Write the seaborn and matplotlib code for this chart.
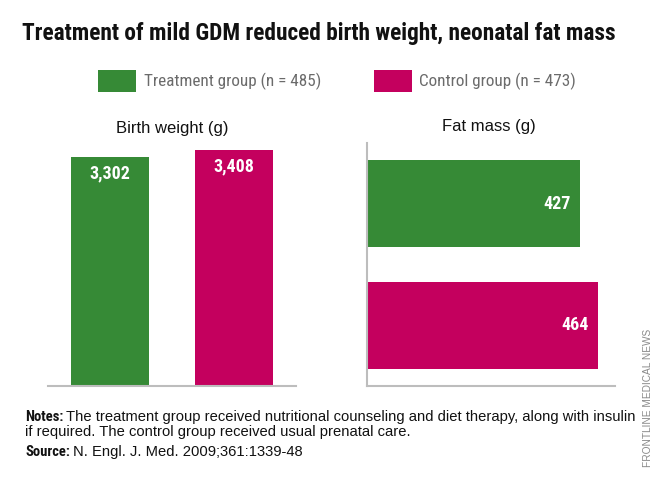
import matplotlib
matplotlib.use('Agg')
import matplotlib.pyplot as plt
from matplotlib import font_manager
from matplotlib.patches import Patch
import seaborn as sns
import pandas as pd

# data
groups = ['Treatment group (n = 485)', 'Control group (n = 473)']
birth_weight = [3302, 3408]
fat_mass = [427, 464]
colors = ['#368a36', '#c4005e']

title = 'Treatment of mild GDM reduced birth weight, neonatal fat mass'
notes_1 = 'The treatment group received nutritional counseling and diet therapy, along with insulin'
notes_2 = 'if required. The control group received usual prenatal care.'
source = 'N. Engl. J. Med. 2009;361:1339-48'

sns.set_theme(style='white')

# pick a narrow font if there is one
names = {f.name for f in font_manager.fontManager.ttflist}
cond = next((n for n in ['Liberation Sans Narrow', 'Roboto Condensed', 'Open Sans Condensed']
             if n in names), 'DejaVu Sans')
plain = 'Liberation Sans' if 'Liberation Sans' in names else 'DejaVu Sans'
plt.rcParams['font.family'] = [cond, 'DejaVu Sans']
plain_fam = [plain, 'DejaVu Sans']

W, H = 665, 488
fig = plt.figure(figsize=(W / 100, H / 100), dpi=100)


def box(l, t, r, b):
    return [l / W, 1 - b / H, (r - l) / W, (b - t) / H]


df_bw = pd.DataFrame({'group': groups, 'value': birth_weight})
df_fm = pd.DataFrame({'group': groups, 'value': fat_mass})
axis_grey = '#bdbdbd'

# Birth weight - vertical bars
ax1 = fig.add_axes(box(48, 140, 296, 386))
sns.barplot(data=df_bw, x='group', y='value', hue='group', palette=colors,
            width=0.63, saturation=1, linewidth=0, legend=False, ax=ax1)
ax1.set_xlim(-0.5, 1.5)
ax1.set_ylim(0, 3550)
for i, v in enumerate(birth_weight):
    ax1.annotate(f'{v:,}', xy=(i, v), xytext=(0, -12), textcoords='offset points',
                 ha='center', va='center', color='white', fontsize=13, fontweight='bold')
ax1.set_title('Birth weight (g)', family=plain_fam, fontsize=12, pad=5, color='#111111')

# Fat mass - horizontal bars
ax2 = fig.add_axes(box(367, 143, 615, 386))
sns.barplot(data=df_fm, x='value', y='group', hue='group', palette=colors, orient='h',
            width=0.72, saturation=1, linewidth=0, legend=False, ax=ax2)
ax2.set_ylim(1.5, -0.5)
ax2.set_xlim(0, 498)
for i, v in enumerate(fat_mass):
    ax2.annotate(f'{v:,}', xy=(v, i), xytext=(-6.5, 0), textcoords='offset points',
                 ha='right', va='center', color='white', fontsize=13, fontweight='bold')
fig.text(489 / W, 1 - 127 / H, 'Fat mass (g)', family=plain_fam, fontsize=12,
         ha='center', va='center', color='#111111')

for ax in (ax1, ax2):
    ax.set_xticks([])
    ax.set_yticks([])
    ax.set_xlabel('')
    ax.set_ylabel('')
    for s in ax.spines.values():
        s.set_visible(False)
    ax.spines['bottom'].set_visible(True)
    ax.spines['bottom'].set_color(axis_grey)
    ax.spines['bottom'].set_linewidth(1.5)
ax2.spines['left'].set_visible(True)
ax2.spines['left'].set_color(axis_grey)
ax2.spines['left'].set_linewidth(1.5)

# title
fig.text(22 / W, 1 - 40 / H, title, fontsize=16.8, fontweight='bold', va='baseline', color='#111111')

# legend
handles = [Patch(facecolor=c, edgecolor='none') for c in colors]
fig.legend(handles, groups, loc='center', bbox_to_anchor=(337 / W, 1 - 81 / H), ncol=2,
           frameon=False, fontsize=12.3, handlelength=2.25, handleheight=1.55,
           handletextpad=0.42, columnspacing=3.1, labelcolor='#6b6b6b')

# notes and source
renderer = fig.canvas.get_renderer()
note_size = 10.6


def bold_lead(x, y, lead, rest):
    t = fig.text(x / W, 1 - y / H, lead, fontsize=10.5, fontweight='bold', va='baseline', color='#111111')
    w = t.get_window_extent(renderer).width
    fig.text((x + w + 3) / W, 1 - y / H, rest, family=plain_fam, fontsize=note_size,
             va='baseline', color='#111111')


bold_lead(25, 421, 'Notes:', notes_1)
fig.text(25 / W, 1 - 436 / H, notes_2, family=plain_fam, fontsize=note_size, va='baseline', color='#111111')
bold_lead(25, 456, 'Source:', source)

fig.text(648 / W, 1 - 398 / H, 'FRONTLINE MEDICAL NEWS', family=plain_fam,
         fontsize=7.3, rotation=90, ha='center', va='center', color='#8a8a8a')

fig.savefig('out.png', dpi=100)
